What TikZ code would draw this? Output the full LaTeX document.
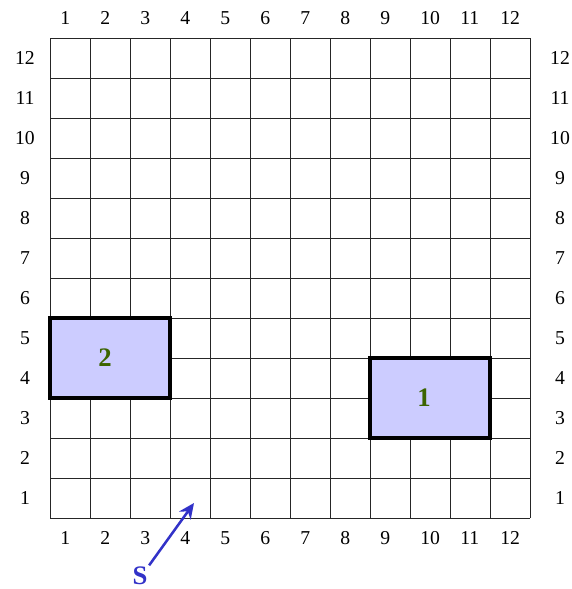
\documentclass[tikz,border=0pt]{standalone}
\usepackage{fontspec}
\setmainfont{Liberation Serif}
\definecolor{roomfill}{RGB}{204, 204, 255}
\definecolor{roomgreen}{RGB}{60, 100, 0}
\definecolor{startblue}{RGB}{50, 50, 200}
\usetikzlibrary{arrows.meta, positioning}

\begin{document}
\begin{tikzpicture}[
    gridnum/.style={font=\fontsize{14}{16}\selectfont, inner sep=0pt},
    room/.style={fill=roomfill, draw=black, line width=2.4pt},
    roomlabel/.style={font=\fontsize{19}{22}\selectfont\bfseries, text=roomgreen, inner sep=0pt},
    startlabel/.style={font=\fontsize{19}{22}\selectfont\bfseries, text=startblue, inner sep=1pt}
  ]
  \useasboundingbox (-1.25, -1.775) rectangle (13.025, 12.95);
  % grid
  \draw[black!85, line width=0.5pt] (0, 0) grid (12, 12);
  \foreach \i in {1,...,12} {
    \node[gridnum, anchor=west] (top\i) at (\i-1+0.25, 12.5) {\i};
    \node[gridnum, anchor=west] (bot\i) at (\i-1+0.25, -0.5) {\i};
    \node[gridnum] (left\i) at (-0.625, \i-0.5) {\i};
    \node[gridnum] (right\i) at (12.75, \i-0.5) {\i};
  }
  % rooms
  \draw[room] (0, 3) rectangle (3, 5);
  \draw[room] (8, 2) rectangle (11, 4);
  \node[roomlabel] (roomtwo) at (1.375, 4) {2};
  \node[roomlabel] (roomone) at (9.35, 3) {1};
  % start
  \node[startlabel] (start) at (2.25, -1.45) {S};
  \coordinate (starttip) at (3.6, 0.375);
  \draw[-{Stealth[length=11pt, width=10pt]}, startblue, line width=1.8pt] (start.north east) -- (starttip);
\end{tikzpicture}
\end{document}
